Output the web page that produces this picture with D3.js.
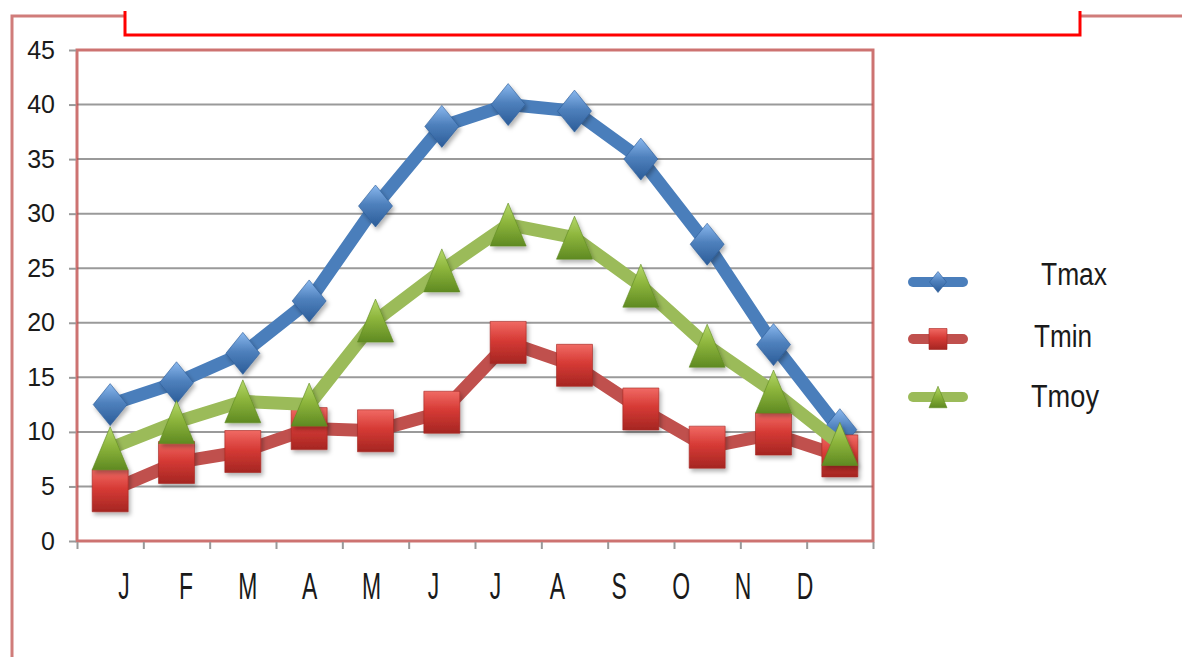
<!DOCTYPE html>
<html>
<head>
<meta charset="utf-8">
<script src="https://cdn.jsdelivr.net/npm/d3@7"></script>
<style>
  body { margin: 0; background: #fff; }
  text { font-family: "Liberation Sans", Arial, sans-serif; fill: #1a1a1a; }
</style>
</head>
<body>
<div id="chart"></div>
<script>
var months = ["Jan", "Feb", "Mar", "Apr", "May", "Jun", "Jul", "Aug", "Sep", "Oct", "Nov", "Dec"];
var monthLabels = ["J", "F", "M", "A", "M", "J", "J", "A", "S", "O", "N", "D"];
var yTicks = [0, 5, 10, 15, 20, 25, 30, 35, 40, 45];

var tmax = [12.5, 14.5, 17.2, 22, 30.7, 38, 40, 39.4, 35, 27.2, 18, 10.2];
var tmin = [4.6, 7.2, 8.2, 10.3, 10.1, 11.8, 18.2, 16.1, 12.1, 8.6, 9.8, 7.8];
var tmoy = [8.5, 10.9, 12.8, 12.5, 20.2, 24.8, 29, 27.8, 23.4, 17.9, 13.7, 8.9];

var width = 1182, height = 657;
var plot = { left: 77, right: 873, top: 50, bottom: 541 };

var series = [
  { name: "Tmax", values: tmax, line: "#4a7ebb", shape: "diamond", grad: ["#8ab8ee", "#4f81bd", "#2b5c98"] },
  { name: "Tmin", values: tmin, line: "#c0504d", shape: "square", grad: ["#f06a64", "#d63a35", "#a52622"] },
  { name: "Tmoy", values: tmoy, line: "#9bbb59", shape: "triangle", grad: ["#b5d86a", "#8db53c", "#5f8a22"] }
];

var svg = d3.select("#chart").append("svg")
  .attr("width", width)
  .attr("height", height);

var defs = svg.append("defs");
series.forEach(function (s) {
  var g = defs.append("linearGradient")
    .attr("id", "g_" + s.name)
    .attr("x1", "0%").attr("x2", "0%")
    .attr("y1", "0%").attr("y2", "100%");
  g.append("stop").attr("offset", "0%").style("stop-color", s.grad[0]);
  g.append("stop").attr("offset", "45%").style("stop-color", s.grad[1]);
  g.append("stop").attr("offset", "100%").style("stop-color", s.grad[2]);
});
defs.append("filter").attr("id", "shadow")
  .attr("x", "-30%").attr("y", "-30%").attr("width", "160%").attr("height", "160%")
  .append("feDropShadow")
  .attr("dx", 2).attr("dy", 3).attr("stdDeviation", 2)
  .attr("flood-color", "#000").attr("flood-opacity", 0.3);

// outer frame decoration
svg.append("path")
  .attr("d", "M12,657V16H125M1081,16H1182")
  .attr("fill", "none")
  .attr("stroke", "#c0504d")
  .attr("stroke-opacity", 0.75)
  .attr("stroke-width", 3);
svg.append("path")
  .attr("d", "M125,11V35H1080V11")
  .attr("fill", "none")
  .attr("stroke", "#ff0000")
  .attr("stroke-width", 3);

// scales
var x = d3.scaleBand().domain(months).range([plot.left, plot.right]);
var xEdge = d3.scaleLinear().domain([0, months.length]).range([plot.left, plot.right]);
var xLabel = d3.scalePoint().domain(d3.range(months.length)).range([124, 805]);
var y = d3.scaleLinear().domain([0, 45]).range([plot.bottom, plot.top]);

// gridlines
svg.append("g")
  .selectAll("line")
  .data(yTicks.filter(function (t) { return t > 0 && t < 45; }))
  .join("line")
  .attr("x1", plot.left).attr("x2", plot.right)
  .attr("y1", function (d) { return y(d); })
  .attr("y2", function (d) { return y(d); })
  .attr("stroke", "#9a9a9a")
  .attr("stroke-width", 2);

// plot frame
svg.append("rect")
  .attr("x", plot.left).attr("y", plot.top)
  .attr("width", plot.right - plot.left)
  .attr("height", plot.bottom - plot.top)
  .attr("fill", "none")
  .attr("stroke", "#c0504d")
  .attr("stroke-opacity", 0.8)
  .attr("stroke-width", 3);

// y axis
var yAxis = svg.append("g")
  .attr("transform", "translate(" + (plot.left - 1) + ",0)")
  .call(d3.axisLeft(y).tickValues(yTicks).tickSize(7).tickPadding(14));
yAxis.select(".domain").remove();
yAxis.selectAll(".tick line").attr("stroke", "#999").attr("stroke-width", 2);
yAxis.selectAll(".tick text")
  .style("font-size", "25px")
  .style("font-family", "'Liberation Sans', Arial, sans-serif")
  .attr("fill", "#111");

// x axis ticks
var xAxis = svg.append("g")
  .attr("transform", "translate(0," + (plot.bottom + 1) + ")")
  .call(d3.axisBottom(xEdge).tickValues(d3.range(months.length + 1)).tickFormat("").tickSize(7));
xAxis.select(".domain").remove();
xAxis.selectAll(".tick line").attr("stroke", "#999").attr("stroke-width", 2);

// x labels
svg.append("g")
  .selectAll("text")
  .data(monthLabels)
  .join("text")
  .attr("transform", function (d, i) { return "translate(" + xLabel(i) + ",599) scale(0.62,1)"; })
  .attr("text-anchor", "middle")
  .style("font-size", "37px")
  .text(function (d) { return d; });

function markerPath(shape, w, h) {
  if (shape === "diamond") return "M0," + (-h / 2) + "L" + (w / 2) + ",0L0," + (h / 2) + "L" + (-w / 2) + ",0Z";
  if (shape === "square") return "M" + (-w / 2) + "," + (-h / 2) + "H" + (w / 2) + "V" + (h / 2) + "H" + (-w / 2) + "Z";
  return "M0," + (-h / 2) + "L" + (w / 2) + "," + (h / 2) + "L" + (-w / 2) + "," + (h / 2) + "Z";
}
var markerSize = {
  diamond: [34, 42],
  square: [36, 42],
  triangle: [36, 43]
};

var line = d3.line()
  .x(function (d, i) { return x(months[i]) + x.bandwidth() / 2; })
  .y(function (d) { return y(d); });

series.forEach(function (s) {
  var g = svg.append("g");
  g.append("path")
    .datum(s.values)
    .attr("d", line)
    .attr("fill", "none")
    .attr("stroke", s.line)
    .attr("stroke-width", 13)
    .attr("stroke-linejoin", "round");
  var sz = markerSize[s.shape];
  g.selectAll("path.mk")
    .data(s.values)
    .join("path")
    .attr("class", "mk")
    .attr("transform", function (d, i) { return "translate(" + (x(months[i]) + x.bandwidth() / 2) + "," + y(d) + ")"; })
    .attr("d", markerPath(s.shape, sz[0], sz[1]))
    .attr("fill", "url(#g_" + s.name + ")")
    .attr("stroke", s.grad[2])
    .attr("stroke-opacity", 0.6)
    .attr("stroke-width", 1)
    .attr("filter", "url(#shadow)");
});

// legend
var legendY = [282, 339, 397];
var legendTextX = [1041, 1034, 1031];
var legendTextLen = [66, 58, 68];
var legend = svg.append("g");
series.forEach(function (s, i) {
  var ly = legendY[i];
  legend.append("line")
    .attr("x1", 913).attr("x2", 963)
    .attr("y1", ly).attr("y2", ly)
    .attr("stroke", s.line)
    .attr("stroke-width", 10)
    .attr("stroke-linecap", "round");
  var sz = markerSize[s.shape];
  legend.append("path")
    .attr("transform", "translate(938," + ly + ")")
    .attr("d", markerPath(s.shape, sz[0] * 0.5, sz[1] * 0.5))
    .attr("fill", "url(#g_" + s.name + ")")
    .attr("stroke", s.grad[2])
    .attr("stroke-opacity", 0.6);
  legend.append("text")
    .attr("x", legendTextX[i])
    .attr("y", ly + 3 + (i === 0 ? 0 : 5) + (i === 2 ? 2 : 0))
    .attr("textLength", legendTextLen[i])
    .attr("lengthAdjust", "spacingAndGlyphs")
    .style("font-size", "31px")
    .text(s.name);
});
</script>
</body>
</html>
